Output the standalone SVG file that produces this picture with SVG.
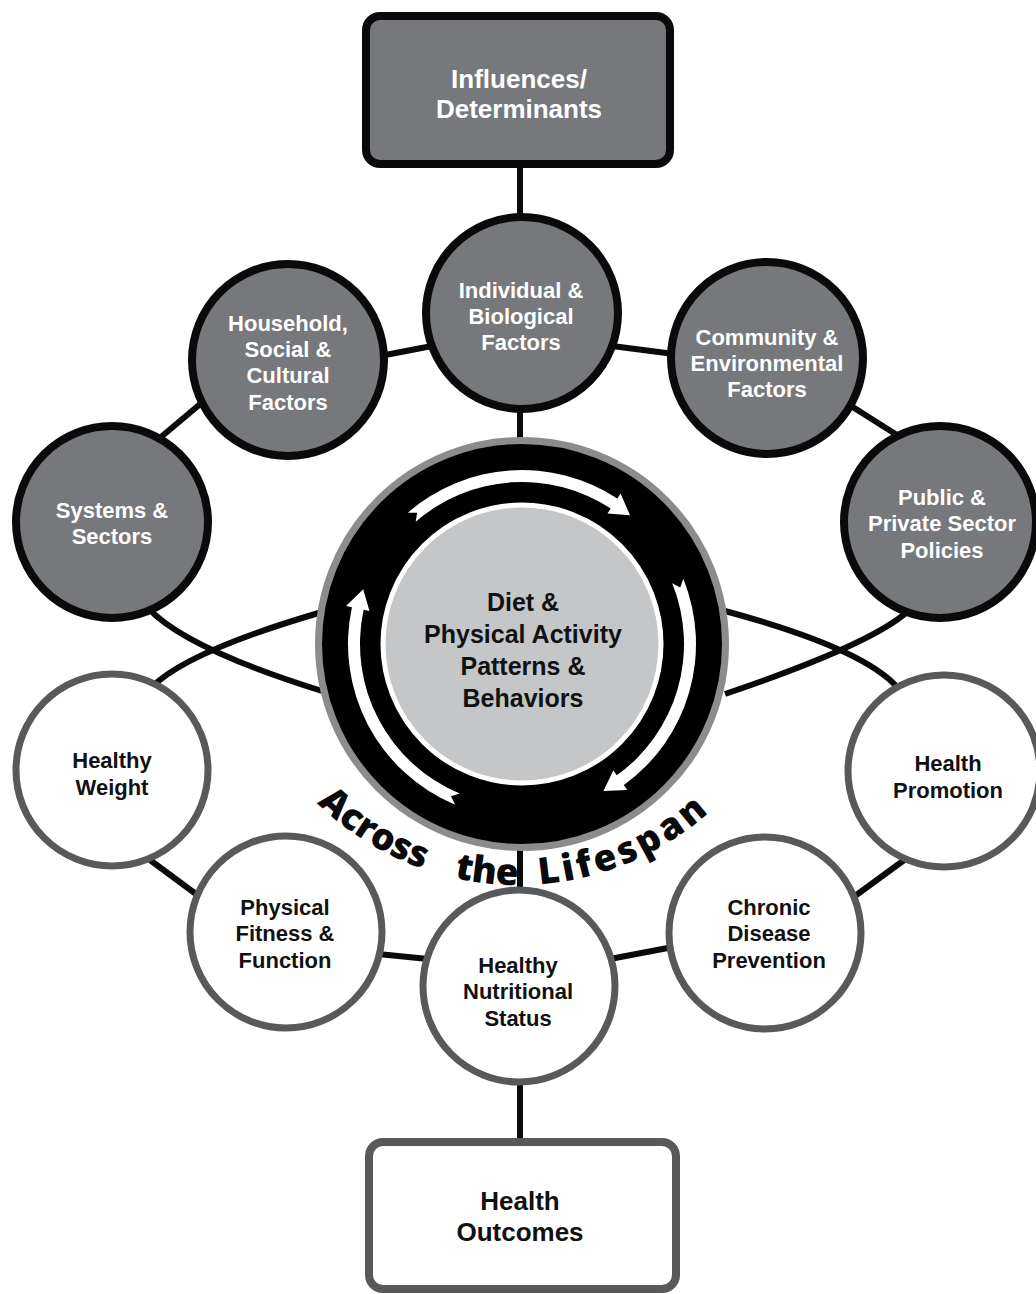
<svg xmlns="http://www.w3.org/2000/svg" xmlns:xlink="http://www.w3.org/1999/xlink" width="1036" height="1294" viewBox="0 0 1036 1294">
<style>
.conn{stroke:#0a0a0a;stroke-width:6;fill:none}
.gnode circle{fill:#76787b;stroke:#0a0a0a;stroke-width:8}
.wnode circle{fill:#ffffff;stroke:#58595b;stroke-width:7}
.lbl{font-family:"Liberation Sans",Arial,sans-serif;font-weight:700;font-size:22px;text-anchor:middle}
.big{font-size:26px}
.wt{fill:#ffffff}
.bk{fill:#111111}
.ctr{font-family:"Liberation Sans",Arial,sans-serif;font-weight:700;font-size:25px;text-anchor:middle;fill:#111111}
.arc{font-family:"Open Sans","Liberation Sans",sans-serif;font-weight:800;font-size:37px;fill:#0a0a0a}
.arrow{fill:#ffffff}
</style>
<defs>
<path id="lifespanArc" d="M248.3,696.2 A287,287 0 0,0 787.7,696.2"/>
</defs>
<rect width="1036" height="1294" fill="#ffffff"/>

<g id="connectors">
<line class="conn" x1="520" y1="160" x2="520" y2="220"/>
<line class="conn" x1="520" y1="405" x2="520" y2="445"/>
<line class="conn" x1="380" y1="356" x2="432" y2="346"/>
<line class="conn" x1="612" y1="346" x2="674" y2="354"/>
<line class="conn" x1="205" y1="400" x2="155" y2="442"/>
<line class="conn" x1="848" y1="404" x2="908" y2="442"/>
<path class="conn" d="M148,608 Q185.5,648.5 322,691"/>
<path class="conn" d="M151,688 Q185,652 322,612"/>
<path class="conn" d="M907,612 Q869.5,645 725,694"/>
<path class="conn" d="M901,692 Q871.5,650.5 725,611"/>
<line class="conn" x1="150" y1="860" x2="200" y2="897"/>
<line class="conn" x1="378" y1="954" x2="428" y2="959"/>
<line class="conn" x1="610" y1="959" x2="673" y2="947"/>
<line class="conn" x1="855" y1="896" x2="907" y2="858"/>
<line class="conn" x1="520" y1="845" x2="520" y2="895"/>
<line class="conn" x1="520" y1="1078" x2="520" y2="1146"/>
</g>

<g id="influences">
<rect x="366" y="16" width="304" height="148" rx="14" fill="#76787b" stroke="#0a0a0a" stroke-width="8"/>
<text class="lbl big wt" x="519" y="88">Influences/<tspan x="519" dy="30">Determinants</tspan></text>
</g>

<g id="individual" class="gnode">
<circle cx="522" cy="313" r="96"/>
<text class="lbl wt" x="521" y="298">Individual &amp;<tspan x="521" dy="25.5">Biological</tspan><tspan x="521" dy="26">Factors</tspan></text>
</g>

<g id="household" class="gnode">
<circle cx="288" cy="360" r="96"/>
<text class="lbl wt" x="288" y="331">Household,<tspan x="288" dy="26">Social &amp;</tspan><tspan x="288" dy="26">Cultural</tspan><tspan x="288" dy="27">Factors</tspan></text>
</g>

<g id="community" class="gnode">
<circle cx="767" cy="358" r="96"/>
<text class="lbl wt" x="767" y="345">Community &amp;<tspan x="767" dy="26">Environmental</tspan><tspan x="767" dy="25.5">Factors</tspan></text>
</g>

<g id="systems" class="gnode">
<circle cx="112" cy="522" r="96"/>
<text class="lbl wt" x="112" y="518">Systems &amp;<tspan x="112" dy="25.5">Sectors</tspan></text>
</g>

<g id="public" class="gnode">
<circle cx="940" cy="522" r="96"/>
<text class="lbl wt" x="942" y="505">Public &amp;<tspan x="942" dy="26">Private Sector</tspan><tspan x="942" dy="27">Policies</tspan></text>
</g>

<g id="center">
<circle cx="522" cy="644" r="203.5" fill="#000000" stroke="#8b8c8e" stroke-width="7"/>
<path class="arrow" d="M407.84,512.68 A174,174 0 0,1 617.28,498.40 L620.57,493.38 L629.99,515.31 L607.43,513.46 L610.71,508.44 A162,162 0 0,0 415.71,521.74 L417.12,512.76 Z"/>
<path class="arrow" d="M683.33,578.82 A174,174 0 0,1 623.82,785.10 L627.34,789.96 L603.45,790.93 L613.29,770.50 L616.80,775.37 A162,162 0 0,0 672.21,583.31 L680.26,587.62 Z"/>
<path class="arrow" d="M455.13,804.64 A174,174 0 0,1 351.91,607.29 L346.05,606.02 L363.16,589.30 L369.51,611.08 L363.64,609.82 A162,162 0 0,0 459.74,793.56 L451.04,796.28 Z"/>
<circle cx="522" cy="644" r="139" fill="#c4c6c8" stroke="#ffffff" stroke-width="5"/>
<text class="ctr" x="523" y="611">Diet &amp;<tspan x="523" dy="32">Physical Activity</tspan><tspan x="523" dy="32">Patterns &amp;</tspan><tspan x="523" dy="32">Behaviors</tspan></text>
</g>

<g id="across-the-lifespan">
<text class="arc"><textPath xlink:href="#lifespanArc" href="#lifespanArc" startOffset="128">Across</textPath></text>
<text class="arc"><textPath xlink:href="#lifespanArc" href="#lifespanArc" startOffset="286">the</textPath></text>
<text class="arc" letter-spacing="3.5"><textPath xlink:href="#lifespanArc" href="#lifespanArc" startOffset="372">Lifespan</textPath></text>
</g>

<g id="healthy-weight" class="wnode">
<circle cx="112" cy="770" r="96"/>
<text class="lbl bk" x="112" y="768">Healthy<tspan x="112" dy="27">Weight</tspan></text>
</g>

<g id="physical-fitness" class="wnode">
<circle cx="286" cy="932" r="96"/>
<text class="lbl bk" x="285" y="915">Physical<tspan x="285" dy="26">Fitness &amp;</tspan><tspan x="285" dy="27">Function</tspan></text>
</g>

<g id="nutritional" class="wnode">
<circle cx="519" cy="986" r="96"/>
<text class="lbl bk" x="518" y="973">Healthy<tspan x="518" dy="25.5">Nutritional</tspan><tspan x="518" dy="27">Status</tspan></text>
</g>

<g id="chronic" class="wnode">
<circle cx="765" cy="933" r="96"/>
<text class="lbl bk" x="769" y="915">Chronic<tspan x="769" dy="26">Disease</tspan><tspan x="769" dy="27">Prevention</tspan></text>
</g>

<g id="health-promotion" class="wnode">
<circle cx="944" cy="771" r="96"/>
<text class="lbl bk" x="948" y="771">Health<tspan x="948" dy="27">Promotion</tspan></text>
</g>

<g id="health-outcomes">
<rect x="369" y="1142" width="307" height="147" rx="14" fill="#ffffff" stroke="#58595b" stroke-width="8"/>
<text class="lbl big bk" x="520" y="1210">Health<tspan x="520" dy="31">Outcomes</tspan></text>
</g>
</svg>
